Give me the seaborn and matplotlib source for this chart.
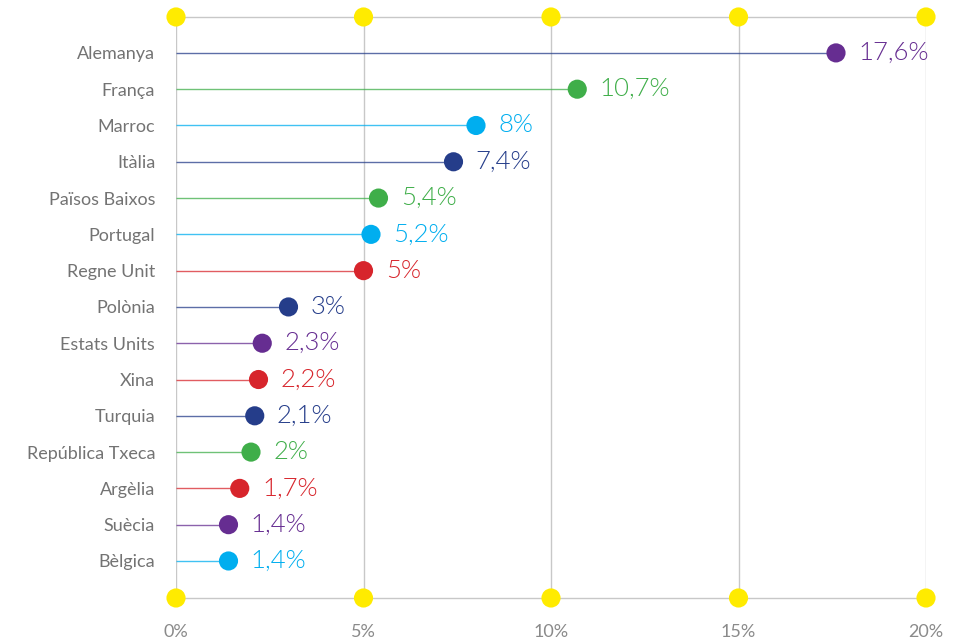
import matplotlib
matplotlib.use("Agg")
import matplotlib.pyplot as plt
import seaborn as sns
import pandas as pd

# data
countries = ["Alemanya", "França", "Marroc", "Itàlia", "Països Baixos", "Portugal",
             "Regne Unit", "Polònia", "Estats Units", "Xina", "Turquia",
             "República Txeca", "Argèlia", "Suècia", "Bèlgica"]
shares = [17.6, 10.7, 8.0, 7.4, 5.4, 5.2, 5.0, 3.0, 2.3, 2.2, 2.1, 2.0, 1.7, 1.4, 1.4]
share_labels = ["17,6%", "10,7%", "8%", "7,4%", "5,4%", "5,2%", "5%", "3%", "2,3%",
                "2,2%", "2,1%", "2%", "1,7%", "1,4%", "1,4%"]
dot_groups = ["purple", "green", "cyan", "navy", "green", "cyan", "red", "navy",
              "purple", "red", "navy", "green", "red", "purple", "cyan"]
line_groups = ["navy", "green", "cyan", "navy", "green", "cyan", "red", "navy",
               "purple", "red", "navy", "green", "red", "purple", "cyan"]
x_ticks = [0, 5, 10, 15, 20]
x_tick_labels = ["0%", "5%", "10%", "15%", "20%"]

palette = {"purple": "#662d91", "green": "#3fae49", "cyan": "#00aeef",
           "navy": "#253d8a", "red": "#d7252c"}

df = pd.DataFrame({"country": countries, "share": shares, "label": share_labels,
                   "dot": dot_groups, "line": line_groups})
df["pos"] = range(len(df))

sns.set_theme(style="white")
plt.rcParams["font.family"] = ["Lato", "DejaVu Sans"]

fig = plt.figure(figsize=(9.66, 6.43), dpi=100)
ax = fig.add_axes([0.1822, 0.07, 0.7764, 0.9036])

grid_c = "#c8c8c8"
for t in x_ticks:
    ax.axvline(t, color=grid_c, lw=1, zorder=0)

# stems
for _, r in df.iterrows():
    ax.hlines(r["pos"], 0, r["share"], color=palette[r["line"]], lw=1, alpha=0.75, zorder=1)

sns.scatterplot(data=df, x="share", y="pos", hue="dot", palette=palette, s=190,
                edgecolor="none", legend=False, ax=ax, zorder=3)

for _, r in df.iterrows():
    ax.annotate(r["label"], (r["share"], r["pos"]), xytext=(16, 0),
                textcoords="offset points", va="center", ha="left",
                fontsize=18.5, color=palette[r["dot"]], fontweight=300)

ax.set_xlim(0, 20)
ax.set_ylim(15.02, -0.99)

# yellow markers on the frame
for yy in [-0.99, 15.02]:
    ax.scatter(x_ticks, [yy] * len(x_ticks), s=190, color="#ffeb00",
               edgecolor="none", clip_on=False, zorder=5)

for side in ["top", "bottom"]:
    ax.spines[side].set_color(grid_c)
    ax.spines[side].set_linewidth(1)
for side in ["left", "right"]:
    ax.spines[side].set_visible(False)

ax.set_yticks(df["pos"])
ax.set_yticklabels(countries)
ax.set_xticks(x_ticks)
ax.set_xticklabels(x_tick_labels)
ax.tick_params(axis="y", length=0, pad=15, labelsize=13, labelcolor="#737373")
ax.tick_params(axis="x", length=0, pad=19, labelsize=13, labelcolor="#8a8a8a")
ax.set_xlabel("")
ax.set_ylabel("")

fig.savefig("out.png", dpi=100)
